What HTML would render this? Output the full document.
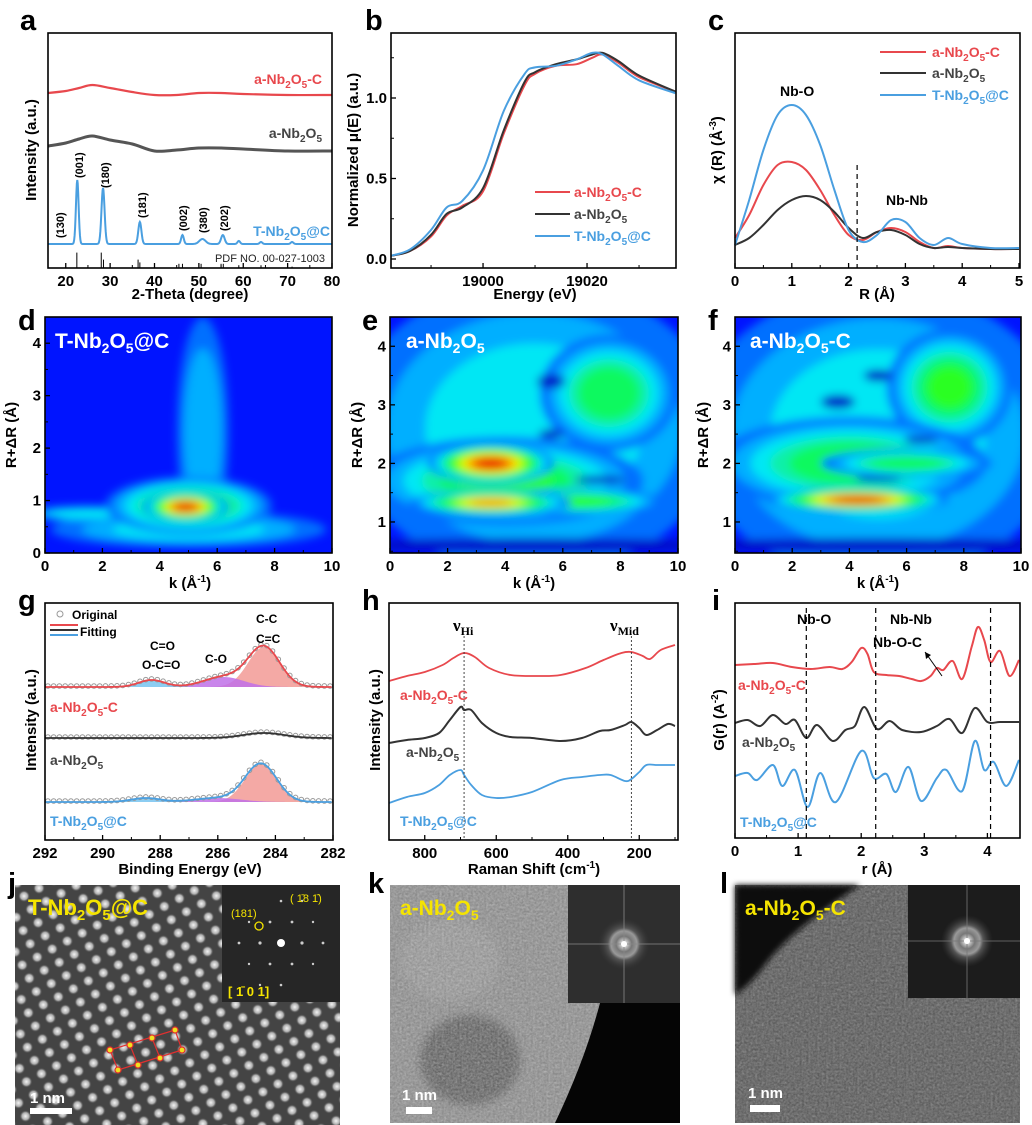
<!DOCTYPE html>
<html><head><meta charset="utf-8"><style>
body{margin:0;background:#fff}
svg{display:block;font-family:"Liberation Sans",Arial,sans-serif;font-weight:bold}
</style></head><body>
<svg id="fig" width="1032" height="1125" viewBox="0 0 1032 1125" xmlns="http://www.w3.org/2000/svg">
<defs>
<filter id="blur6" x="-50%" y="-50%" width="200%" height="200%"><feGaussianBlur stdDeviation="4.5"/></filter>
<filter id="blur3"><feGaussianBlur stdDeviation="3"/></filter>
<filter id="noise" x="0" y="0" width="100%" height="100%"><feTurbulence type="fractalNoise" baseFrequency="0.45" numOctaves="2" seed="3"/><feColorMatrix type="matrix" values="0 0 0 0 1  0 0 0 0 1  0 0 0 0 1  0.6 0.6 0 0 -0.35"/></filter>
<clipPath id="clipD"><rect x="45" y="317" width="287" height="236"/></clipPath>
<clipPath id="clipE"><rect x="390" y="317" width="288" height="236"/></clipPath>
<clipPath id="clipF"><rect x="735" y="317" width="286" height="236"/></clipPath>
<radialGradient id="dotg"><stop offset="0" stop-color="#f4f4f4"/><stop offset="0.6" stop-color="#aaa"/><stop offset="1" stop-color="#444" stop-opacity="0"/></radialGradient>
<radialGradient id="fftg"><stop offset="0" stop-color="#fff"/><stop offset="0.08" stop-color="#ddd"/><stop offset="0.3" stop-color="#777"/><stop offset="0.5" stop-color="#999"/><stop offset="0.62" stop-color="#555"/><stop offset="1" stop-color="#333" stop-opacity="0"/></radialGradient>
<pattern id="lattice" width="17" height="15" patternUnits="userSpaceOnUse" patternTransform="rotate(-28)"><rect width="17" height="15" fill="#3a3a3a"/><circle cx="8.5" cy="7.5" r="6" fill="url(#dotg)"/></pattern>
</defs>

<g font-size="29" fill="#000">
<text x="20" y="30">a</text>
<text x="365" y="30">b</text>
<text x="708" y="30">c</text>
<text x="18" y="330">d</text>
<text x="362" y="330">e</text>
<text x="708" y="330">f</text>
<text x="18" y="610">g</text>
<text x="362" y="610">h</text>
<text x="712" y="610">i</text>
<text x="8" y="893">j</text>
<text x="368" y="893">k</text>
<text x="720" y="893">l</text>
</g>

<g font-size="15" fill="#000" text-anchor="middle">
<text transform="translate(36,150) rotate(-90)">Intensity (a.u.)</text>
<text x="190" y="299">2-Theta (degree)</text>
<text transform="translate(358,150) rotate(-90)">Normalized μ(E) (a.u.)</text>
<text x="535" y="299">Energy (eV)</text>
<text transform="translate(722,150) rotate(-90)">χ (R) (Å<tspan font-size="10" dy="-6">-3</tspan><tspan dy="6">)</tspan></text>
<text x="877" y="299">R (Å)</text>
<text transform="translate(16,435) rotate(-90)">R+ΔR (Å)</text>
<text x="190" y="588">k (Å<tspan font-size="10" dy="-6">-1</tspan><tspan dy="6">)</tspan></text>
<text transform="translate(362,435) rotate(-90)">R+ΔR (Å)</text>
<text x="534" y="588">k (Å<tspan font-size="10" dy="-6">-1</tspan><tspan dy="6">)</tspan></text>
<text transform="translate(708,435) rotate(-90)">R+ΔR (Å)</text>
<text x="878" y="588">k (Å<tspan font-size="10" dy="-6">-1</tspan><tspan dy="6">)</tspan></text>
<text transform="translate(36,720) rotate(-90)">Intensity (a.u.)</text>
<text x="190" y="874">Binding Energy (eV)</text>
<text transform="translate(380,720) rotate(-90)">Intensity (a.u.)</text>
<text x="534" y="874">Raman Shift (cm<tspan font-size="10" dy="-6">-1</tspan><tspan dy="6">)</tspan></text>
<text transform="translate(724,720) rotate(-90)">G(r) (A<tspan font-size="10" dy="-6">-2</tspan><tspan dy="6">)</tspan></text>
<text x="877" y="874">r (Å)</text>
</g>

<g id="hmD" clip-path="url(#clipD)"></g>
<g id="hmE" clip-path="url(#clipE)"></g>
<g id="hmF" clip-path="url(#clipF)"></g>
<g id="plots"></g>

<g font-size="14">
<text x="322" y="84" fill="#e8484d" text-anchor="end">a-Nb<tspan font-size="10" dy="4">2</tspan><tspan dy="-4">O</tspan><tspan font-size="10" dy="4">5</tspan><tspan dy="-4">-C</tspan></text>
<text x="322" y="138" fill="#444" text-anchor="end">a-Nb<tspan font-size="10" dy="4">2</tspan><tspan dy="-4">O</tspan><tspan font-size="10" dy="4">5</tspan></text>
<text x="330" y="236" fill="#4a9fe0" text-anchor="end">T-Nb<tspan font-size="10" dy="4">2</tspan><tspan dy="-4">O</tspan><tspan font-size="10" dy="4">5</tspan><tspan dy="-4">@C</tspan></text>
<text x="325" y="262" fill="#222" font-weight="normal" font-size="11" text-anchor="end">PDF NO. 00-027-1003</text>
</g>
<g font-size="11" fill="#000">
<text transform="translate(64,238) rotate(-90)">(130)</text>
<text transform="translate(83,178) rotate(-90)">(001)</text>
<text transform="translate(109,188) rotate(-90)">(180)</text>
<text transform="translate(146,218) rotate(-90)">(181)</text>
<text transform="translate(187,231) rotate(-90)">(002)</text>
<text transform="translate(207,233) rotate(-90)">(380)</text>
<text transform="translate(228,231) rotate(-90)">(202)</text>
</g>
<g font-size="14">
<text x="574" y="197" fill="#e8484d">a-Nb<tspan font-size="10" dy="4">2</tspan><tspan dy="-4">O</tspan><tspan font-size="10" dy="4">5</tspan><tspan dy="-4">-C</tspan></text>
<text x="574" y="219" fill="#444">a-Nb<tspan font-size="10" dy="4">2</tspan><tspan dy="-4">O</tspan><tspan font-size="10" dy="4">5</tspan></text>
<text x="574" y="241" fill="#4a9fe0">T-Nb<tspan font-size="10" dy="4">2</tspan><tspan dy="-4">O</tspan><tspan font-size="10" dy="4">5</tspan><tspan dy="-4">@C</tspan></text>
<text x="932" y="57" fill="#e8484d">a-Nb<tspan font-size="10" dy="4">2</tspan><tspan dy="-4">O</tspan><tspan font-size="10" dy="4">5</tspan><tspan dy="-4">-C</tspan></text>
<text x="932" y="78" fill="#444">a-Nb<tspan font-size="10" dy="4">2</tspan><tspan dy="-4">O</tspan><tspan font-size="10" dy="4">5</tspan></text>
<text x="932" y="100" fill="#4a9fe0">T-Nb<tspan font-size="10" dy="4">2</tspan><tspan dy="-4">O</tspan><tspan font-size="10" dy="4">5</tspan><tspan dy="-4">@C</tspan></text>
<text x="780" y="96" fill="#000">Nb-O</text>
<text x="886" y="205" fill="#000">Nb-Nb</text>
</g>
<g font-size="21" fill="#fff">
<text x="55" y="348">T-Nb<tspan font-size="14" dy="5">2</tspan><tspan dy="-5">O</tspan><tspan font-size="14" dy="5">5</tspan><tspan dy="-5">@C</tspan></text>
<text x="406" y="348">a-Nb<tspan font-size="14" dy="5">2</tspan><tspan dy="-5">O</tspan><tspan font-size="14" dy="5">5</tspan></text>
<text x="750" y="348">a-Nb<tspan font-size="14" dy="5">2</tspan><tspan dy="-5">O</tspan><tspan font-size="14" dy="5">5</tspan><tspan dy="-5">-C</tspan></text>
</g>
<g font-size="12" fill="#000">
<text x="72" y="619">Original</text>
<text x="80" y="636">Fitting</text>
<text x="256" y="623">C-C</text>
<text x="256" y="643">C=C</text>
<text x="150" y="650">C=O</text>
<text x="142" y="669">O-C=O</text>
<text x="205" y="663">C-O</text>
</g>
<g font-size="14">
<text x="50" y="712" fill="#e8484d">a-Nb<tspan font-size="10" dy="4">2</tspan><tspan dy="-4">O</tspan><tspan font-size="10" dy="4">5</tspan><tspan dy="-4">-C</tspan></text>
<text x="50" y="765" fill="#444">a-Nb<tspan font-size="10" dy="4">2</tspan><tspan dy="-4">O</tspan><tspan font-size="10" dy="4">5</tspan></text>
<text x="50" y="826" fill="#4a9fe0">T-Nb<tspan font-size="10" dy="4">2</tspan><tspan dy="-4">O</tspan><tspan font-size="10" dy="4">5</tspan><tspan dy="-4">@C</tspan></text>
<text x="400" y="700" fill="#e8484d">a-Nb<tspan font-size="10" dy="4">2</tspan><tspan dy="-4">O</tspan><tspan font-size="10" dy="4">5</tspan><tspan dy="-4">-C</tspan></text>
<text x="406" y="757" fill="#444">a-Nb<tspan font-size="10" dy="4">2</tspan><tspan dy="-4">O</tspan><tspan font-size="10" dy="4">5</tspan></text>
<text x="400" y="826" fill="#4a9fe0">T-Nb<tspan font-size="10" dy="4">2</tspan><tspan dy="-4">O</tspan><tspan font-size="10" dy="4">5</tspan><tspan dy="-4">@C</tspan></text>
<text x="738" y="690" fill="#e8484d">a-Nb<tspan font-size="10" dy="4">2</tspan><tspan dy="-4">O</tspan><tspan font-size="10" dy="4">5</tspan><tspan dy="-4">-C</tspan></text>
<text x="742" y="747" fill="#444">a-Nb<tspan font-size="10" dy="4">2</tspan><tspan dy="-4">O</tspan><tspan font-size="10" dy="4">5</tspan></text>
<text x="740" y="827" fill="#4a9fe0">T-Nb<tspan font-size="10" dy="4">2</tspan><tspan dy="-4">O</tspan><tspan font-size="10" dy="4">5</tspan><tspan dy="-4">@C</tspan></text>
<text x="797" y="624" fill="#000">Nb-O</text>
<text x="890" y="624" fill="#000">Nb-Nb</text>
<text x="873" y="647" fill="#000">Nb-O-C</text>
</g>
<g font-family="Liberation Serif,serif" font-size="17" fill="#000">
<text x="453" y="631">ν<tspan font-size="12" dy="4">Hi</tspan></text>
<text x="610" y="631">ν<tspan font-size="12" dy="4">Mid</tspan></text>
</g>
<line x1="925" y1="652" x2="942" y2="676" stroke="#000" stroke-width="1"/>
<path d="M925,652 l1,7 l5,-4 z" fill="#000"/>

<g>
<rect x="15" y="885" width="325" height="240" fill="url(#lattice)"/>
<rect x="15" y="885" width="325" height="240" fill="#fff" opacity="0.05"/>
<rect x="222" y="885" width="118" height="117" fill="#262626"/>
<g fill="#ccc">
<circle cx="281" cy="943" r="4" fill="#fff"/><circle cx="260" cy="943" r="1.6"/><circle cx="302" cy="943" r="1.6"/><circle cx="239" cy="943" r="1.4"/><circle cx="323" cy="943" r="1.4"/>
<circle cx="270" cy="922" r="1.4"/><circle cx="292" cy="922" r="1.4"/><circle cx="270" cy="964" r="1.4"/><circle cx="292" cy="964" r="1.4"/>
<circle cx="249" cy="922" r="1.2"/><circle cx="313" cy="922" r="1.2"/><circle cx="249" cy="964" r="1.2"/><circle cx="313" cy="964" r="1.2"/>
<circle cx="281" cy="901" r="1.3"/><circle cx="281" cy="985" r="1.3"/><circle cx="260" cy="985" r="1.2"/><circle cx="302" cy="901" r="1.2"/>
</g>
<circle cx="259" cy="926" r="4" fill="none" stroke="#f5e400" stroke-width="1.3"/>
<text x="231" y="917" font-size="11" font-weight="normal" fill="#f5e400">(181)</text>
<text x="290" y="902" font-size="11" font-weight="normal" fill="#f5e400">( 1̄8 1̄)</text>
<text x="228" y="996" font-size="13" fill="#f5e400">[ 1̄ 0 1]</text>
<text x="28" y="915" font-size="22" fill="#f5e400">T-Nb<tspan font-size="15" dy="5">2</tspan><tspan dy="-5">O</tspan><tspan font-size="15" dy="5">5</tspan><tspan dy="-5">@C</tspan></text>
<g stroke="#e03030" stroke-width="1.2" fill="#f0e020"><path d="M110,1050 L175,1030 M118,1070 L182,1050 M110,1050 L118,1070 M130,1045 L138,1065 M152,1038 L160,1058 M175,1030 L182,1050" fill="none"/>
<circle cx="110" cy="1050" r="3"/><circle cx="130" cy="1045" r="3"/><circle cx="152" cy="1038" r="3"/><circle cx="175" cy="1030" r="3"/><circle cx="118" cy="1070" r="3"/><circle cx="138" cy="1065" r="3"/><circle cx="160" cy="1058" r="3"/><circle cx="182" cy="1050" r="3"/></g>
<text x="30" y="1103" font-size="15" fill="#fff">1 nm</text>
<rect x="30" y="1108" width="42" height="6" fill="#fff"/>
</g>
<g>
<rect x="390" y="885" width="290" height="238" fill="#8a8a8a"/>
<ellipse cx="470" cy="1060" rx="50" ry="45" fill="#555" filter="url(#blur6)" opacity="0.7"/>
<ellipse cx="450" cy="960" rx="50" ry="40" fill="#999" filter="url(#blur6)" opacity="0.6"/>
<rect x="390" y="885" width="290" height="238" filter="url(#noise)" opacity="0.55"/>
<path d="M600,1003 L680,1003 L680,1123 L555,1123 Q585,1060 600,1003 Z" fill="#050505"/>
<rect x="568" y="885" width="112" height="118" fill="#2e2e2e"/>
<circle cx="624" cy="944" r="26" fill="url(#fftg)"/>
<line x1="568" y1="944" x2="680" y2="944" stroke="#888" stroke-width="0.8"/><line x1="624" y1="885" x2="624" y2="1003" stroke="#888" stroke-width="0.8"/>
<circle cx="624" cy="944" r="3" fill="#fff"/>
<text x="400" y="915" font-size="21" fill="#f5e400">a-Nb<tspan font-size="14" dy="5">2</tspan><tspan dy="-5">O</tspan><tspan font-size="14" dy="5">5</tspan></text>
<text x="402" y="1100" font-size="15" fill="#fff">1 nm</text>
<rect x="406" y="1107" width="26" height="7" fill="#fff"/>
</g>
<g>
<rect x="735" y="885" width="285" height="238" fill="#5c5c5c"/>
<rect x="735" y="885" width="285" height="238" filter="url(#noise)" opacity="0.45"/>
<path d="M735,885 L860,885 Q830,905 805,925 Q780,945 765,965 Q750,985 735,995 Z" fill="#0c0c0c" filter="url(#blur3)"/>
<rect x="908" y="885" width="112" height="113" fill="#1c1c1c"/>
<circle cx="967" cy="941" r="26" fill="url(#fftg)"/>
<line x1="908" y1="941" x2="1020" y2="941" stroke="#777" stroke-width="0.8"/><line x1="967" y1="885" x2="967" y2="998" stroke="#777" stroke-width="0.8"/>
<circle cx="967" cy="941" r="3" fill="#fff"/>
<text x="745" y="915" font-size="21" fill="#f5e400">a-Nb<tspan font-size="14" dy="5">2</tspan><tspan dy="-5">O</tspan><tspan font-size="14" dy="5">5</tspan><tspan dy="-5">-C</tspan></text>
<text x="748" y="1098" font-size="15" fill="#fff">1 nm</text>
<rect x="750" y="1105" width="30" height="7" fill="#fff"/>
</g>
</svg>
<script>
// a: XRD
const aRedX=[16,20,23,26,30,35,40,45,50,55,60,70,80];
const aRedV=[175,177,180,183,180,176,173,173,175,175,174,173,173];
const aGrayX=[16,20,23,26,30,35,40,45,50,55,60,70,80];
const aGrayV=[122,125,129,132,128,124,117,118,120,120,119,117,117];
const aBlueBase=24;
const aPeakPos=[22.6,28.4,36.7,46.3,50.8,55.4,59,64,71];
const aPeakH=[64,56,22,9,5,9,3,2,2];
const aPeakW=[0.3,0.35,0.35,0.3,0.7,0.4,0.3,0.3,0.3];
const aStickPos=[22.5,28,28.5,36.3,36.7,45.5,46.3,50.5,55,55.5,59,64,71];
const aStickH=[11,11,6,6,4,3,3,3,3,3,2,2,1];
// b: XANES
const bE=[18982.3,18986,18990,18993,18996,19000,19004,19008,19010,19014,19018,19021,19023,19026,19030,19037];
const bBlue=[0.02,0.06,0.18,0.32,0.36,0.55,0.92,1.15,1.19,1.20,1.24,1.28,1.27,1.20,1.11,1.03];
const bRed=[0.02,0.05,0.14,0.27,0.33,0.42,0.78,1.08,1.15,1.20,1.21,1.25,1.27,1.22,1.13,1.04];
const bBlack=[0.02,0.05,0.15,0.28,0.32,0.44,0.80,1.10,1.16,1.21,1.24,1.27,1.28,1.23,1.14,1.04];
// c: FT-EXAFS
const cR=[0,0.25,0.5,0.75,1,1.25,1.5,1.75,2,2.25,2.5,2.75,3,3.25,3.5,3.75,4,4.5,5];
const cBlue=[23,68,118,153,163,153,123,78,38,26,33,48,46,30,23,30,24,20,20];
const cRed=[30,53,83,103,106,98,78,53,33,28,36,40,36,26,20,22,20,19,19];
const cBlack=[23,30,43,58,68,72,68,56,40,30,36,38,33,24,20,21,20,19,19];
// d,e,f: wavelet blobs [k, R, rk, rR, level]
const dBlobs=[[5.5,2.3,0.9,2.2,0.33],[5.0,0.45,4.8,0.35,0.38],[1.5,0.75,2.2,0.15,0.42],[5.0,0.9,2.9,0.55,0.62],[4.9,0.88,1.5,0.3,1.0]];
const eBlobs=[[5,2.6,6.5,2.5,0.4],[7.6,3.2,2.4,1.0,0.55],[4,1.7,4.8,0.75,0.58],[6.5,1.35,3,0.22,0.62],[3.5,1.33,2.8,0.22,0.86],[3.5,2.0,2.2,0.35,1.0]];
const eSpots=[[5.6,3.4,0.5,0.12],[5.6,2.5,0.45,0.08],[7.3,1.72,0.9,0.07],[5,0.6,8,0.12]];
const fBlobs=[[5,2.5,6.5,2.5,0.4],[7.5,3.3,2.2,1.0,0.58],[4,2.0,4.8,0.8,0.55],[6,2.0,3,0.25,0.55],[4.3,1.38,3.2,0.22,1.0]];
const fSpots=[[3.6,3.05,0.6,0.12],[5.0,3.5,0.5,0.1],[6.5,2.4,0.6,0.07],[5,1.74,0.8,0.05],[5,0.6,8,0.12]];
// g: XPS components [center eV, height, sigma]
const gRedComp=[[284.4,40,0.55],[285.8,10,0.7],[288.3,7,0.45]];
const gBlackComp=[[284.4,5,0.7]];
const gBlueComp=[[284.5,38,0.55],[286.0,4,0.8],[288.5,4,0.5]];
const gBase=[153,102,38];
// h: Raman
const hW=[900,850,800,750,720,690,660,620,560,480,420,350,300,250,222,190,170,140,100];
const hRed=[159,164,168,175,182,187,183,172,165,164,165,172,180,187,188,184,181,190,195];
const hWk=[900,850,800,760,730,700,690,670,640,600,560,500,420,360,310,280,240,222,200,180,150,120,100];
const hBlack=[97,100,102,107,120,133,130,130,117,107,103,102,99,102,109,110,115,118,112,105,110,116,114];
const hBlue=[37,43,47,55,65,70,65,55,45,42,43,48,60,63,65,65,59,61,68,75,75,75,75];
// i: PDF
const iRr=[0,0.3,0.6,0.9,1.2,1.5,1.7,1.85,2.0,2.1,2.2,2.4,2.6,2.8,2.95,3.1,3.2,3.3,3.45,3.6,3.75,3.85,3.95,4.05,4.2,4.35,4.5];
const iRed=[173,174,175,171,169,171,169,176,190,184,166,163,162,159,157,162,170,168,177,159,191,211,198,176,187,162,178];
const iRk=[0,0.2,0.4,0.6,0.8,0.95,1.13,1.3,1.55,1.75,1.9,2.05,2.25,2.45,2.65,2.95,3.2,3.4,3.6,3.8,4.0,4.2,4.5];
const iBlack=[115,118,112,123,114,118,100,113,97,108,112,131,109,117,108,106,112,119,105,130,116,116,116];
const iRb=[0,0.2,0.35,0.6,0.75,0.95,1.15,1.35,1.6,2.0,2.2,2.4,2.55,2.75,2.95,3.2,3.35,3.6,3.8,3.95,4.1,4.3,4.5];
const iBlue=[62,65,58,73,52,68,31,65,36,87,60,64,46,71,37,60,68,47,97,68,76,52,78];

const NS='http://www.w3.org/2000/svg';
const root=document.getElementById('plots');
function mk(tag,attrs,parent){const e=document.createElementNS(NS,tag);for(const k in attrs)e.setAttribute(k,attrs[k]);(parent||root).appendChild(e);return e;}
function smooth(p){let d='M'+p[0][0].toFixed(1)+','+p[0][1].toFixed(1);for(let i=0;i<p.length-1;i++){const p0=p[i-1]||p[i],p1=p[i],p2=p[i+1],p3=p[i+2]||p2;const c1x=p1[0]+(p2[0]-p0[0])/6,c1y=p1[1]+(p2[1]-p0[1])/6,c2x=p2[0]-(p3[0]-p1[0])/6,c2y=p2[1]-(p3[1]-p1[1])/6;d+=`C${c1x.toFixed(1)},${c1y.toFixed(1)} ${c2x.toFixed(1)},${c2y.toFixed(1)} ${p2[0].toFixed(1)},${p2[1].toFixed(1)}`;}return d;}
function curve(xs,vs,fx,fy,color,name,w){const pts=xs.map((x,i)=>[fx(x),fy(vs[i])]);const e=mk('path',{d:smooth(pts),fill:'none',stroke:color,'stroke-width':w||2});


return e;}
function frame(x,y,w,h,name){const e=mk('rect',{x:x,y:y,width:w,height:h,fill:'none',stroke:'#000','stroke-width':1.6});

}
function xticks(vals,fx,yb,labels,minor,prefix){vals.forEach((v,i)=>{const t=mk('line',{x1:fx(v),x2:fx(v),y1:yb,y2:yb-5,stroke:'#000','stroke-width':1.3});


const l=mk('text',{x:fx(v),y:yb+18,'text-anchor':'middle','font-size':15});l.textContent=labels[i];

});
(minor||[]).forEach(v=>{const t=mk('line',{x1:fx(v),x2:fx(v),y1:yb,y2:yb-3,stroke:'#000','stroke-width':1});

});}
function yticks(vals,fy,xl,labels,minor,prefix){vals.forEach((v,i)=>{const t=mk('line',{x1:xl,x2:xl+5,y1:fy(v),y2:fy(v),stroke:'#000','stroke-width':1.3});


const l=mk('text',{x:xl-4,y:fy(v)+5,'text-anchor':'end','font-size':15});l.textContent=labels[i];

});
(minor||[]).forEach(v=>{const t=mk('line',{x1:xl,x2:xl+3,y1:fy(v),y2:fy(v),stroke:'#000','stroke-width':1});

});}
function range(a,b,s){const r=[];for(let v=a;v<=b+1e-9;v+=s)r.push(+v.toFixed(4));return r;}
const RED='#e8484d',BLU='#4a9fe0';

// a
const xA=t=>48+(t-16)*284/64, yA=v=>268-v;
curve(aRedX,aRedV,xA,yA,RED,'a-curve-anb2o5c',2.2);
curve(aGrayX,aGrayV,xA,yA,'#555','a-curve-anb2o5',3);
(function(){const xs=[],vs=[];for(let t=16;t<=80;t+=0.1){let v=aBlueBase;aPeakPos.forEach((p,i)=>{v+=aPeakH[i]*Math.exp(-((t-p)**2)/(2*aPeakW[i]**2));});xs.push(t);vs.push(v);}
const pts=xs.map((x,i)=>[xA(x),yA(vs[i])]);const e=mk('polyline',{points:pts.map(p=>p.join(',')).join(' '),fill:'none',stroke:BLU,'stroke-width':2});

})();
aStickPos.forEach((p,i)=>{const s=mk('line',{x1:xA(p),x2:xA(p),y1:268,y2:268-aStickH[i]*1.4,stroke:'#000','stroke-width':1});

});
frame(48,33,284,235,'a-plot-frame');
xticks([20,30,40,50,60,70,80],xA,268,['20','30','40','50','60','70','80'],range(15,75,10).filter(v=>v>16),'a');

// b
const xB=e=>391+(e-18982.3)*5.2, yB=v=>259-v*161;
curve(bE,bRed,xB,yB,RED,'b-curve-anb2o5c');
curve(bE,bBlack,xB,yB,'#333','b-curve-anb2o5');
curve(bE,bBlue,xB,yB,BLU,'b-curve-tnb2o5c');
frame(391,33,285,235,'b-plot-frame');
xticks([19000,19020],xB,268,['19000','19020'],[18990,19010,19030],'b');
yticks([0,0.5,1.0],yB,391,['0.0','0.5','1.0'],[0.25,0.75,1.25],'b');
[[192,RED,'b-legend-line-red'],[214,'#333','b-legend-line-black'],[236,BLU,'b-legend-line-blue']].forEach(r=>{const l=mk('line',{x1:535,x2:570,y1:r[0],y2:r[0],stroke:r[1],'stroke-width':2});

});

// c
const xC=r=>735+r*56.8, yC=v=>268-v;
curve(cR,cRed,xC,yC,RED,'c-curve-anb2o5c');
curve(cR,cBlack,xC,yC,'#333','c-curve-anb2o5');
curve(cR,cBlue,xC,yC,BLU,'c-curve-tnb2o5c');
(function(){const l=mk('line',{x1:xC(2.15),x2:xC(2.15),y1:165,y2:268,stroke:'#000','stroke-dasharray':'5,4','stroke-width':1.2});

})();
frame(735,33,285,235,'c-plot-frame');
xticks([0,1,2,3,4,5],xC,268,['0','1','2','3','4','5'],[0.5,1.5,2.5,3.5,4.5],'c');
[[52,RED,'c-legend-line-red'],[73,'#333','c-legend-line-black'],[95,BLU,'c-legend-line-blue']].forEach(r=>{const l=mk('line',{x1:880,x2:926,y1:r[0],y2:r[0],stroke:r[1],'stroke-width':2});

});

// heatmaps
function jet(l){const stops=[[0,[0,0,150]],[0.12,[0,20,255]],[0.35,[0,230,255]],[0.55,[20,255,40]],[0.75,[255,255,0]],[0.88,[255,120,0]],[1,[230,0,0]]];for(let i=0;i<stops.length-1;i++){const a=stops[i],b=stops[i+1];if(l<=b[0]){const f=(l-a[0])/(b[0]-a[0]);return 'rgb('+a[1].map((c,j)=>Math.round(c+(b[1][j]-c)*f)).join(',')+')';}}return 'rgb(230,0,0)';}
function heatmap(gid,x0,x1,ybot,ytop,R0,R1,blobs,spots,pref){const g=document.getElementById(gid);const fx=k=>x0+k*(x1-x0)/10, fy=R=>ybot-(R-R0)*(ybot-ytop)/(R1-R0);const sx=(x1-x0)/10, sy=(ybot-ytop)/(R1-R0);
mk('rect',{x:x0,y:ytop-40,width:x1-x0,height:ybot-ytop+40,fill:'rgb(0,20,255)'},g);
const inner=mk('g',{filter:'url(#blur6)'},g);
blobs.forEach(b=>{for(let l=0.22;l<=b[4]+1e-6;l+=0.07){const s=Math.max(0.12,1-(l-0.22)/(b[4]-0.1+1e-6)*0.9);const e=mk('ellipse',{cx:fx(b[0]),cy:fy(b[1]),rx:b[2]*sx*s,ry:b[3]*sy*s,fill:jet(l)},inner);

}});
(spots||[]).forEach(s=>{const e=mk('ellipse',{cx:fx(s[0]),cy:fy(s[1]),rx:s[2]*sx,ry:s[3]*sy,fill:'rgb(0,10,200)'},inner);

});
frame(x0,ytop,x1-x0,ybot-ytop,pref+'-plot-frame');
xticks([0,2,4,6,8,10],fx,ybot,['0','2','4','6','8','10'],[1,3,5,7,9],pref);
const yv=[0,1,2,3,4].filter(v=>v>=R0);yticks(yv,fy,x0,yv.map(String),[0.5,1.5,2.5,3.5].filter(v=>v>R0),pref);}
heatmap('hmD',45,332,553,317,0,4.5,dBlobs,[],'d');
heatmap('hmE',390,678,553,317,0.47,4.5,eBlobs,eSpots,'e');
heatmap('hmF',735,1021,553,317,0.47,4.5,fBlobs,fSpots,'f');

// g
const xG=be=>45+(292-be)*28.8, yG=v=>840-v;
function xps(comp,base,color,fills,pref){const xs=[];for(let b=292;b>=282;b-=0.05)xs.push(+b.toFixed(2));
comp.forEach((c,ci)=>{if(!fills)return;const pts=xs.map(b=>[xG(b),yG(base+c[1]*Math.exp(-((b-c[0])**2)/(2*c[2]**2)))]);
const e=mk('path',{d:'M'+pts.map(p=>p.join(',')).join('L')+'Z',fill:fills[ci],opacity:0.85});

});
const tot=b=>base+comp.reduce((s,c)=>s+c[1]*Math.exp(-((b-c[0])**2)/(2*c[2]**2)),0);
for(let b=291.9;b>=282;b-=0.2){const c=mk('circle',{cx:xG(b),cy:yG(tot(b))-1,r:2.3,fill:'none',stroke:'#999','stroke-width':1});

}
const e=mk('polyline',{points:xs.map(b=>xG(b)+','+yG(tot(b))).join(' '),fill:'none',stroke:color,'stroke-width':1.8});

}
xps(gRedComp,gBase[0],RED,['#f29a95','#c070e8','#78c4f0'],'g-anb2o5c');
xps(gBlackComp,gBase[1],'#333',null,'g-anb2o5');
xps(gBlueComp,gBase[2],BLU,['#f29a95','#c070e8','#78c4f0'],'g-tnb2o5c');
frame(45,603,288,237,'g-plot-frame');
xticks([292,290,288,286,284,282],xG,840,['292','290','288','286','284','282'],[291,289,287,285,283],'g');
(function(){const c=mk('circle',{cx:60,cy:614,r:3,fill:'none',stroke:'#999'});


[[625,RED],[630,'#333'],[635,BLU]].forEach(r=>{const l=mk('line',{x1:50,x2:78,y1:r[0],y2:r[0],stroke:r[1],'stroke-width':2});

});})();

// h
const xH=w=>389+(900-w)*0.3575, yH=v=>840-v;
curve(hW,hRed,xH,yH,RED,'h-curve-anb2o5c',1.8);
curve(hWk,hBlack,xH,yH,'#333','h-curve-anb2o5',2);
curve(hWk,hBlue,xH,yH,BLU,'h-curve-tnb2o5c',1.8);
[690,222].forEach(w=>{const l=mk('line',{x1:xH(w),x2:xH(w),y1:636,y2:840,stroke:'#333','stroke-dasharray':'2,2','stroke-width':0.9});

});
frame(389,603,289,237,'h-plot-frame');
xticks([800,600,400,200],xH,840,['800','600','400','200'],[700,500,300,100],'h');

// i
const xI=r=>735+r*63.1, yI=v=>838-v;
curve(iRr,iRed,xI,yI,RED,'i-curve-anb2o5c');
curve(iRk,iBlack,xI,yI,'#333','i-curve-anb2o5');
curve(iRb,iBlue,xI,yI,BLU,'i-curve-tnb2o5c');
[1.13,2.23,4.05].forEach(r=>{const l=mk('line',{x1:xI(r),x2:xI(r),y1:608,y2:838,stroke:'#000','stroke-dasharray':'5,4','stroke-width':1.2});

});
frame(735,603,285,235,'i-plot-frame');
xticks([0,1,2,3,4],xI,838,['0','1','2','3','4'],[0.5,1.5,2.5,3.5],'i');
</script>
</body></html>
